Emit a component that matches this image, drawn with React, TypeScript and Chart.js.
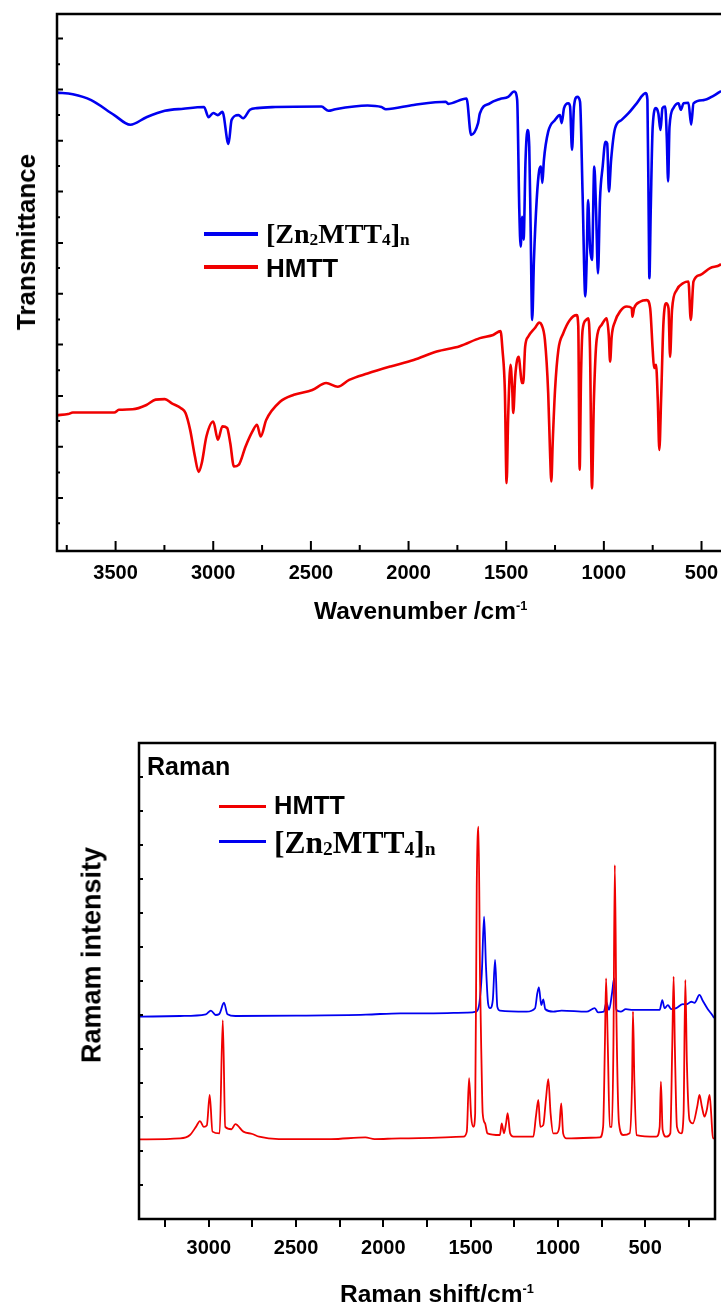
import React, { useEffect, useRef } from 'react';
import { Chart, registerables } from 'chart.js';

Chart.register(...registerables);

// ---------------- data ----------------
// IR (FT-IR) : wavenumber (cm-1) and transmittance (arbitrary units)
const IR_ZN_WAVENUMBER = [
  3800, 3719, 3625, 3507, 3425, 3342, 3248, 3153, 3047, 3024, 3000, 2977, 2953, 2922, 2906, 2871, 2847, 2812,
  2776, 2682, 2446, 2410, 2375, 2210, 2139, 2116, 1974, 1809, 1797, 1703, 1680, 1644, 1635, 1584, 1532, 1490,
  1459, 1444, 1433, 1426, 1418, 1411, 1401, 1391, 1382, 1375, 1367, 1358, 1344, 1331, 1322, 1315, 1307, 1285,
  1250, 1225, 1216, 1204, 1182, 1173, 1163, 1153, 1136, 1122, 1109, 1095, 1088, 1081, 1071, 1061, 1049, 1040,
  1030, 1020, 1006, 992, 983, 974, 963, 943, 909, 875, 832, 786, 777, 770, 767, 760, 750, 733, 721, 710, 700,
  686, 678, 671, 664, 644, 618, 606, 592, 567, 553, 541, 490, 439, 400,
];
const IR_ZN_T = [
  85.3, 85.0, 83.9, 81.1, 79.3, 80.7, 81.9, 82.3, 82.6, 80.7, 81.5, 81.1, 81.7, 75.7, 80.2, 81.1, 80.5, 82.1,
  82.4, 82.6, 82.7, 81.9, 82.2, 82.9, 82.6, 82.2, 83.0, 83.6, 83.2, 84.2, 77.4, 79.6, 81.4, 83.3, 84.1, 84.5,
  85.5, 84.0, 63.4, 56.5, 62.1, 57.8, 72.7, 78.3, 75.2, 60.2, 42.8, 54.0, 65.2, 70.8, 71.5, 68.4, 72.7, 78.0,
  80.2, 81.1, 79.6, 82.4, 83.3, 82.7, 74.6, 82.7, 84.5, 83.6, 66.5, 47.2, 54.0, 65.2, 56.5, 54.0, 71.5, 63.4,
  51.5, 65.2, 71.5, 76.1, 75.8, 66.8, 72.7, 78.6, 80.2, 81.4, 83.3, 85.2, 84.0, 60.2, 50.6, 63.4, 78.9, 82.4, 81.4, 78.3, 82.4,
  82.7, 77.1, 68.7, 78.9, 82.4, 83.3, 82.1, 83.3, 83.4, 79.3, 83.3, 83.9, 84.7, 85.6,
];
const IR_HMTT_WAVENUMBER = [
  3800, 3743, 3719, 3507, 3483, 3413, 3342, 3295, 3248, 3212, 3165, 3142, 3118, 3094, 3075, 3059, 3035, 3000,
  2976, 2953, 2929, 2913, 2894, 2870, 2835, 2800, 2776, 2757, 2729, 2658, 2587, 2493, 2422, 2363, 2304, 2210,
  2092, 1974, 1856, 1738, 1635, 1567, 1529, 1519, 1507, 1498, 1490, 1478, 1469, 1464, 1454, 1444, 1435, 1428,
  1420, 1413, 1403, 1387, 1353, 1331, 1319, 1302, 1285, 1276, 1269, 1262, 1250, 1233, 1208, 1174, 1139, 1131,
  1124, 1117, 1109, 1091, 1080, 1071, 1061, 1051, 1037, 1011, 986, 975, 968, 960, 943, 917, 883, 857, 854, 845,
  815, 780, 763, 750, 743, 733, 724, 716, 707, 695, 681, 669, 661, 651, 627, 593, 567, 555, 541, 507, 456, 405, 400,
];
const IR_HMTT_T = [
  25.0, 25.2, 25.5, 25.5, 26.0, 26.1, 26.9, 27.9, 28.0, 27.2, 26.3, 25.4, 22.2, 17.3, 14.4, 16.0, 21.0, 23.8,
  20.4, 22.9, 22.6, 19.8, 15.4, 15.7, 19.1, 21.9, 23.2, 21.0, 24.1, 27.5, 28.8, 29.7, 31.0, 30.3, 31.6, 32.8,
  34.1, 35.3, 36.9, 37.9, 39.4, 40.0, 40.7, 37.2, 29.7, 12.3, 24.7, 34.4, 29.7, 25.4, 32.2, 35.3, 35.9, 33.5,
  31.0, 31.0, 37.8, 39.7, 41.3, 42.3, 41.9, 39.1, 29.1, 18.5, 12.6, 19.8, 29.7, 37.2, 40.3, 42.8, 43.7, 41.6,
  14.8, 32.2, 40.9, 42.8, 43.1, 37.2, 11.3, 27.9, 39.1, 41.9, 43.1, 40.0, 35.0, 39.7, 42.5, 44.4, 45.3, 45.0, 43.4, 45.0,
  46.2, 46.5, 45.0, 37.2, 33.8, 34.4, 27.9, 18.5, 27.9, 42.2, 45.9, 45.0, 35.9, 44.7, 48.4, 49.7, 50.0, 42.8, 50.0, 51.2, 52.5, 53.1, 53.3,
];

// Raman : shift (cm-1) and intensity (arbitrary units)
const RAMAN_HMTT_SHIFT = [
  3400, 3164, 3108, 3074, 3051, 3029, 3011, 2995, 2979, 2938, 2920, 2906, 2870, 2848, 2802, 2750, 2712, 2599,
  2300, 2103, 2050, 1903, 1541, 1522, 1509, 1497, 1484, 1474, 1465, 1455, 1446, 1438, 1431, 1417, 1404, 1332,
  1322, 1309, 1297, 1288, 1274, 1255, 1141, 1126, 1112, 1101, 1084, 1069, 1055, 1042, 1027, 1008, 992, 981,
  970, 951, 760, 741, 731, 724, 714, 703, 691, 682, 674, 665, 650, 627, 589, 575, 570, 562, 550, 436, 417, 410,
  400, 379, 356, 345, 337, 330, 318, 293, 280, 270, 261, 246, 227, 202, 189, 175, 160, 147, 131, 122, 112, 105,
];
const RAMAN_HMTT_I = [
  23.4, 23.7, 24.7, 27.1, 28.8, 27.1, 27.6, 36.5, 25.7, 25.2, 58.5, 27.1, 26.4, 27.9, 25.7, 25.0, 24.2, 23.5,
  23.5, 24.0, 23.5, 23.7, 24.2, 25.7, 41.4, 30.1, 27.1, 31.1, 97.7, 115.4, 70.3, 46.8, 31.1, 28.1, 25.2, 24.7,
  28.1, 25.2, 28.1, 31.1, 25.2, 24.2, 24.2, 30.1, 35.0, 27.1, 27.6, 35.0, 41.1, 31.1, 25.2, 25.2, 27.1, 34.0,
  25.2, 23.7, 24.0, 27.1, 50.7, 70.8, 50.7, 27.1, 27.1, 50.7, 104.1, 60.5, 28.1, 24.7, 25.2, 40.9, 61.0, 40.9, 24.7, 24.2, 27.1, 40.4,
  26.2, 24.2, 25.2, 50.7, 71.3, 50.7, 27.1, 25.2, 31.1, 70.3, 45.8, 29.1, 28.1, 33.0, 36.5, 33.0, 30.1, 32.1, 36.5, 31.1, 23.7, 23.7,
];
const RAMAN_ZN_SHIFT = [
  3400, 3164, 3017, 2988, 2961, 2940, 2913, 2893, 2848, 2500, 2100, 1903, 1713, 1522, 1469, 1450, 1436, 1423,
  1412, 1400, 1389, 1373, 1360, 1347, 1332, 1179, 1131, 1118, 1109, 1095, 1084, 1072, 1027, 979, 836, 789, 770,
  737, 722, 707, 690, 678, 665, 640, 611, 570, 417, 402, 389, 370, 350, 322, 284, 265, 236, 217, 189, 170, 141, 116, 105,
];
const RAMAN_ZN_I = [
  59.5, 59.7, 60.2, 61.3, 60.0, 60.3, 63.6, 60.2, 59.7, 59.8, 60.1, 60.5, 60.5, 60.7, 61.0, 63.4, 72.3, 88.9,
  74.2, 63.4, 62.0, 64.4, 76.2, 62.4, 61.3, 61.0, 62.0, 66.4, 68.1, 62.9, 64.6, 61.7, 61.0, 61.3, 61.0, 62.0, 60.8,
  61.0, 63.6, 61.5, 66.4, 70.8, 61.5, 61.0, 61.7, 61.5, 61.5, 64.4, 62.0, 62.9, 61.7, 62.0, 63.2, 63.1, 63.9, 63.6, 65.9, 64.2, 61.7, 60.0, 59.1,
];

// axis ticks
const IR_X_TICKS = [3750, 3500, 3250, 3000, 2750, 2500, 2250, 2000, 1750, 1500, 1250, 1000, 750, 500];
const IR_X_LABELS = [3500, 3000, 2500, 2000, 1500, 1000, 500];
const IR_Y_TICKS = [4.8, 9.5, 14.3, 19.1, 23.9, 28.6, 33.4, 38.2, 42.9, 47.7, 52.5, 57.2, 62.0, 66.8, 71.6, 76.3, 81.1, 85.9, 90.6, 95.4];
const RAMAN_X_TICKS = [3250, 3000, 2750, 2500, 2250, 2000, 1750, 1500, 1250, 1000, 750, 500, 250];
const RAMAN_X_LABELS = [3000, 2500, 2000, 1500, 1000, 500];
const RAMAN_Y_TICKS = [10, 20, 30, 40, 50, 60, 70, 80, 90, 100, 110, 120, 130];

// ---------------- styling ----------------
const BLUE = '#0000f0';
const RED = '#f00000';
const SANS = '"Liberation Sans", Arial, Helvetica, sans-serif';
const SERIF = '"Liberation Serif", "Times New Roman", Times, serif';

const toPoints = (xs: number[], ys: number[]) => xs.map((x, i) => ({ x, y: ys[i] }));

const framePlugin = {
  id: 'frame',
  afterDraw(chart: any, _args: any, opts: any) {
    const { ctx, chartArea: a, scales } = chart;
    ctx.save();
    ctx.strokeStyle = '#000';
    ctx.lineCap = 'butt';
    ctx.lineWidth = opts.tickWidth;
    ctx.beginPath();
    if (opts.innerXMajor > 0) {
      scales.x.ticks.forEach((t: any) => {
        const px = scales.x.getPixelForValue(t.value);
        const len = t.value % opts.innerXMajorStep === 0 ? opts.innerXMajor : opts.innerXMinor;
        ctx.moveTo(px, a.bottom);
        ctx.lineTo(px, a.bottom - len);
      });
    }
    if (opts.innerYMajor > 0) {
      scales.y.ticks.forEach((t: any, i: number) => {
        const py = scales.y.getPixelForValue(t.value);
        const len = i % 2 === 1 ? opts.innerYMajor : opts.innerYMinor;
        ctx.moveTo(a.left, py);
        ctx.lineTo(a.left + len, py);
      });
    }
    ctx.stroke();
    ctx.lineWidth = opts.lineWidth;
    ctx.strokeRect(a.left, a.top, a.right - a.left, a.bottom - a.top);
    ctx.restore();
  },
};

const tickFont = { family: SANS, size: 20, weight: 'bold' as const };

const lineStyle = (color: string, width: number) => ({
  borderColor: color,
  borderWidth: width,
  pointRadius: 0,
  tension: 0,
  cubicInterpolationMode: 'monotone' as const,
  fill: false,
  borderJoinStyle: 'round' as const,
});

function makeIrConfig(): any {
  return {
    type: 'line',
    data: {
      datasets: [
        { label: '[Zn2MTT4]n', data: toPoints(IR_ZN_WAVENUMBER, IR_ZN_T), ...lineStyle(BLUE, 2.6) },
        { label: 'HMTT', data: toPoints(IR_HMTT_WAVENUMBER, IR_HMTT_T), ...lineStyle(RED, 2.6) },
      ],
    },
    options: {
      animation: false,
      responsive: false,
      events: [],
      layout: { padding: { top: 14, right: 7, bottom: 0, left: 0 } },
      plugins: {
        legend: { display: false },
        tooltip: { enabled: false },
        frame: { lineWidth: 2.5, tickWidth: 2, innerXMajor: 10, innerXMinor: 6, innerXMajorStep: 500, innerYMajor: 6, innerYMinor: 3 },
      },
      scales: {
        x: {
          type: 'linear',
          reverse: true,
          min: 390,
          max: 3800,
          afterBuildTicks: (s: any) => { s.ticks = IR_X_TICKS.map((v) => ({ value: v })); },
          afterFit: (s: any) => { s.height = 89; },
          grid: { display: false, drawTicks: false },
          border: { display: false },
          ticks: {
            autoSkip: false, maxRotation: 0, minRotation: 0, padding: 10, color: '#000', font: tickFont,
            callback: (v: any) => (IR_X_LABELS.includes(Number(v)) ? String(v) : ''),
          },
        },
        y: {
          type: 'linear',
          min: -0.4,
          max: 100,
          afterBuildTicks: (s: any) => { s.ticks = IR_Y_TICKS.map((v) => ({ value: v })); },
          afterFit: (s: any) => { s.width = 57; },
          grid: { display: false, drawTicks: false },
          border: { display: false },
          ticks: { display: false },
        },
      },
    },
    plugins: [framePlugin],
  };
}

function makeRamanConfig(): any {
  return {
    type: 'line',
    data: {
      datasets: [
        { label: 'HMTT', data: toPoints(RAMAN_HMTT_SHIFT, RAMAN_HMTT_I), ...lineStyle(RED, 1.8) },
        { label: '[Zn2MTT4]n', data: toPoints(RAMAN_ZN_SHIFT, RAMAN_ZN_I), ...lineStyle(BLUE, 1.8) },
      ],
    },
    options: {
      animation: false,
      responsive: false,
      events: [],
      layout: { padding: { top: 63, right: 6, bottom: 0, left: 0 } },
      plugins: {
        legend: { display: false },
        tooltip: { enabled: false },
        frame: { lineWidth: 2.5, tickWidth: 2, innerXMajor: 0, innerXMinor: 0, innerXMajorStep: 500, innerYMajor: 4, innerYMinor: 4 },
      },
      scales: {
        x: {
          type: 'linear',
          reverse: true,
          min: 100,
          max: 3400,
          afterBuildTicks: (s: any) => { s.ticks = RAMAN_X_TICKS.map((v) => ({ value: v })); },
          afterFit: (s: any) => { s.height = 87; },
          grid: { display: true, drawOnChartArea: false, drawTicks: true, tickLength: 8, color: '#000', lineWidth: 2 },
          border: { display: false },
          ticks: {
            autoSkip: false, maxRotation: 0, minRotation: 0, padding: 9, color: '#000', font: tickFont,
            callback: (v: any) => (RAMAN_X_LABELS.includes(Number(v)) ? String(v) : ''),
          },
        },
        y: {
          type: 'linear',
          min: 0,
          max: 140,
          afterBuildTicks: (s: any) => { s.ticks = RAMAN_Y_TICKS.map((v) => ({ value: v })); },
          afterFit: (s: any) => { s.width = 139; },
          grid: { display: false, drawTicks: false },
          border: { display: false },
          ticks: { display: false },
        },
      },
    },
    plugins: [framePlugin],
  };
}

function ChartCanvas(props: { make: () => any; left: number; top: number; width: number; height: number }) {
  const { make, left, top, width, height } = props;
  const ref = useRef<HTMLCanvasElement | null>(null);
  useEffect(() => {
    if (!ref.current) return;
    const chart = new Chart(ref.current, make());
    return () => chart.destroy();
  }, [make]);
  return (
    <canvas
      ref={ref}
      width={width}
      height={height}
      style={{ position: 'absolute', left, top, width, height, display: 'block' }}
    />
  );
}

const textBase: React.CSSProperties = {
  position: 'absolute',
  whiteSpace: 'nowrap',
  lineHeight: 1,
  margin: 0,
  color: '#000',
};

function Sub({ children }: { children: React.ReactNode }) {
  return <span style={{ fontSize: '0.62em', position: 'relative', top: '0.12em' }}>{children}</span>;
}

function ZnLabel({ left, baseline, size }: { left: number; baseline: number; size: number }) {
  return (
    <div style={{ ...textBase, left, top: baseline - 0.8375 * size, fontFamily: SERIF, fontWeight: 'bold', fontSize: size }}>
      [Zn<Sub>2</Sub>MTT<Sub>4</Sub>]<Sub>n</Sub>
    </div>
  );
}

function SansText({ left, baseline, size, children, weight = 'bold' }: { left: number; baseline: number; size: number; children: React.ReactNode; weight?: string }) {
  return (
    <div style={{ ...textBase, left, top: baseline - 0.8465 * size, fontFamily: SANS, fontWeight: weight as any, fontSize: size }}>
      {children}
    </div>
  );
}

function VTitle({ cx, cy, size, children }: { cx: number; cy: number; size: number; children: React.ReactNode }) {
  return (
    <div
      style={{
        ...textBase,
        left: cx,
        top: cy,
        fontFamily: SANS,
        fontWeight: 'bold',
        fontSize: size,
        transform: 'translate(-50%, -50%) rotate(-90deg)',
      }}
    >
      {children}
    </div>
  );
}

function Swatch({ left, y, width, thick, color }: { left: number; y: number; width: number; thick: number; color: string }) {
  return <div style={{ position: 'absolute', left, top: y - thick / 2, width, height: thick, background: color }} />;
}

const Sup = ({ children }: { children: React.ReactNode }) => (
  <span style={{ fontSize: '0.52em', position: 'relative', top: '-0.75em' }}>{children}</span>
);

export default function App() {
  return (
    <div style={{ position: 'absolute', left: 0, top: 0, width: 721, height: 1306, overflow: 'hidden', background: '#fff' }}>
      {/* IR spectrum */}
      <ChartCanvas make={makeIrConfig} left={0} top={0} width={730} height={640} />
      <VTitle cx={26} cy={242} size={26}>Transmittance</VTitle>
      <SansText left={314} baseline={620} size={24.5}>
        Wavenumber /cm<Sup>-1</Sup>
      </SansText>
      <Swatch left={204} y={233.5} width={54} thick={4} color={BLUE} />
      <ZnLabel left={266} baseline={243.5} size={28} />
      <Swatch left={204} y={266.7} width={54} thick={4} color={RED} />
      <SansText left={266} baseline={276.7} size={26}>HMTT</SansText>

      {/* Raman spectrum */}
      <ChartCanvas make={makeRamanConfig} left={0} top={680} width={721} height={626} />
      <SansText left={147} baseline={775} size={25}>Raman</SansText>
      <Swatch left={219} y={806.7} width={47} thick={3} color={RED} />
      <SansText left={274} baseline={815} size={25.5}>HMTT</SansText>
      <Swatch left={219} y={841.7} width={47} thick={3} color={BLUE} />
      <ZnLabel left={274} baseline={853.3} size={31.5} />
      <VTitle cx={92} cy={955} size={27}>Ramam intensity</VTitle>
      <SansText left={340} baseline={1303} size={24.5}>
        Raman shift/cm<Sup>-1</Sup>
      </SansText>
    </div>
  );
}
